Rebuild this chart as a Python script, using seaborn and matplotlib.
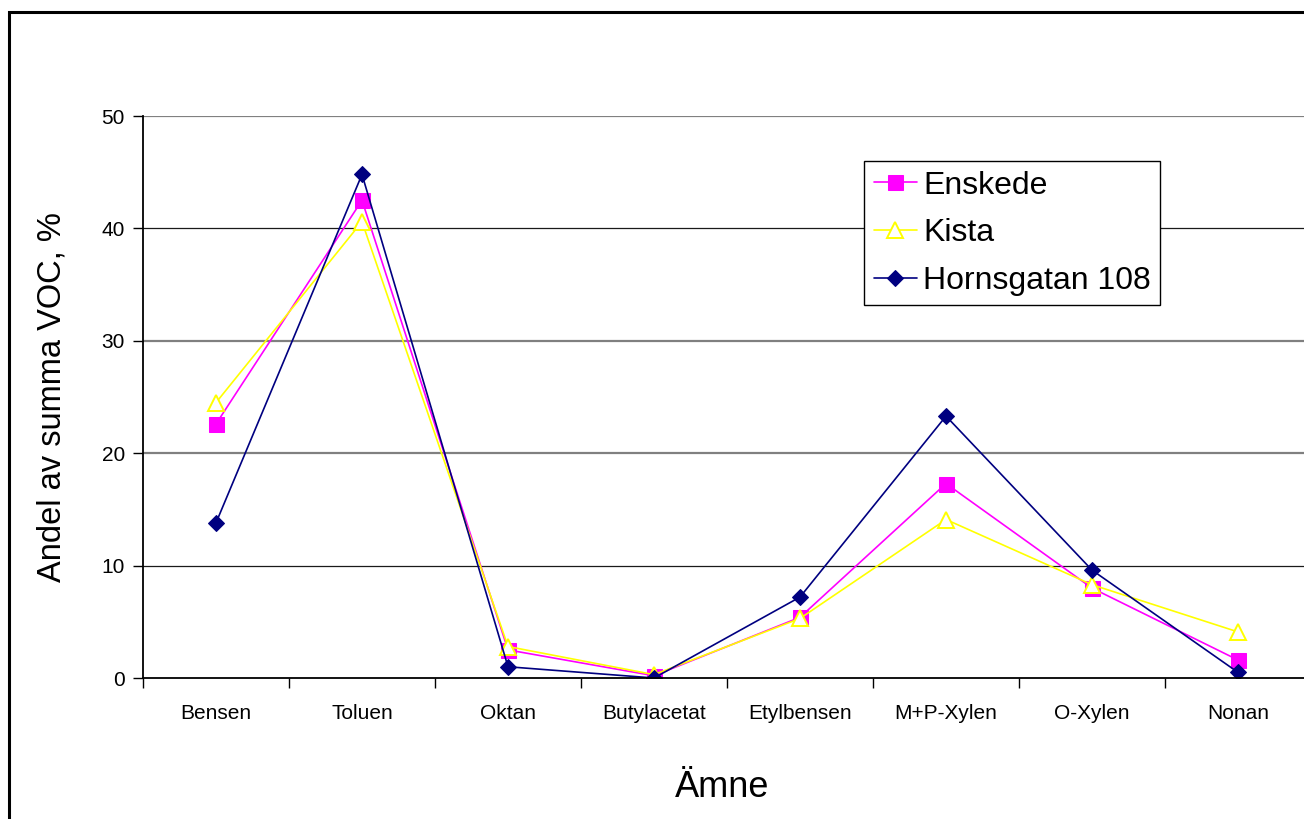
import matplotlib
matplotlib.use("Agg")
import matplotlib.pyplot as plt
from matplotlib.patches import Rectangle
import pandas as pd
import seaborn as sns

# Substances measured (x categories)
amnen = ["Bensen", "Toluen", "Oktan", "Butylacetat", "Etylbensen",
         "M+P-Xylen", "O-Xylen", "Nonan"]

# Share of total VOC (%) per site
enskede = [22.6, 42.5, 2.5, 0.2, 5.4, 17.3, 8.0, 1.6]
kista = [24.5, 40.6, 2.8, 0.3, 5.3, 14.1, 8.3, 4.1]
hornsgatan = [13.8, 44.8, 1.0, 0.0, 7.2, 23.3, 9.6, 0.5]

y_ticks = [0, 10, 20, 30, 40, 50]

sns.set_theme(style="white")
plt.rcParams["font.family"] = ["Liberation Sans", "DejaVu Sans"]
plt.rcParams["text.color"] = "black"
plt.rcParams["axes.labelcolor"] = "black"

fig = plt.figure(figsize=(13.04, 8.19), dpi=100)
fig.patch.set_facecolor("white")

# Outer chart frame
fig.add_artist(Rectangle((9 / 1304, -0.05), 1.2, 1 - 12 / 819 + 0.05,
                         transform=fig.transFigure, fill=False,
                         edgecolor="black", linewidth=2.2))

ax = fig.add_axes([143 / 1304, 1 - 678 / 819, 1168 / 1304, (678 - 116) / 819])
ax.set_facecolor("white")

series = [
    ("Enskede", enskede, dict(color="#FF00FF", marker="s", markersize=10.8,
                              markerfacecolor="#FF00FF", markeredgecolor="#FF00FF")),
    ("Kista", kista, dict(color="#FFFF00", marker="^", markersize=11,
                          markerfacecolor="white", markeredgecolor="#FFFF00",
                          markeredgewidth=1.4)),
    ("Hornsgatan 108", hornsgatan, dict(color="#000080", marker="D", markersize=7.8,
                                        markerfacecolor="#000080",
                                        markeredgecolor="#000080")),
]

for name, vals, kw in series:
    df = pd.DataFrame({"Ämne": amnen, "Andel": vals})
    sns.lineplot(data=df, x="Ämne", y="Andel", ax=ax, label=name,
                 sort=False, linewidth=1.2, **kw)

ax.set_xlim(-0.5, len(amnen) - 0.5)
ax.set_ylim(0, 50)
ax.set_yticks(y_ticks)
ax.set_xticks(range(len(amnen)))
ax.set_xticklabels(amnen)
ax.set_xticks([i - 0.5 for i in range(len(amnen) + 1)], minor=True)

ax.tick_params(axis="x", which="major", length=0, pad=19, labelsize=15,
               labelcolor="black")
ax.tick_params(axis="x", which="minor", length=7, width=1, direction="out",
               color="black", bottom=True)
ax.tick_params(axis="y", which="major", length=7, width=1, direction="out",
               left=True, pad=6, labelsize=15, labelcolor="black", color="black")

# Horizontal gridlines
for yv in y_ticks[1:]:
    dark = yv in (10, 40)
    ax.axhline(yv, color="#1a1a1a" if dark else "#808080",
               linewidth=0.9 if dark else 1.6, zorder=0.5)

for side in ("top", "right"):
    ax.spines[side].set_visible(False)
for side in ("left", "bottom"):
    ax.spines[side].set_color("black")
    ax.spines[side].set_linewidth(1.3)

ax.set_xlabel("Ämne", fontsize=26, color="black")
ax.xaxis.set_label_coords((722 - 143) / 1168, -(770 - 678) / 562)
ax.set_ylabel("Andel av summa VOC, %", fontsize=23.5, color="black")
ax.yaxis.set_label_coords(-(143 - 52) / 1168, 0.5)
ax.yaxis.label.set_verticalalignment("center")

leg = ax.legend(loc="upper left", bbox_to_anchor=((864 - 143) / 1168, 1 - (161 - 116) / 562),
                fontsize=23, frameon=True, fancybox=False, framealpha=1,
                edgecolor="black", handlelength=1.35, handletextpad=0.2,
                borderpad=0.3, labelspacing=0.55, borderaxespad=0)
leg.get_frame().set_linewidth(1.0)
for t in leg.get_texts():
    t.set_color("black")

fig.savefig("out.png", dpi=100, facecolor="white")
